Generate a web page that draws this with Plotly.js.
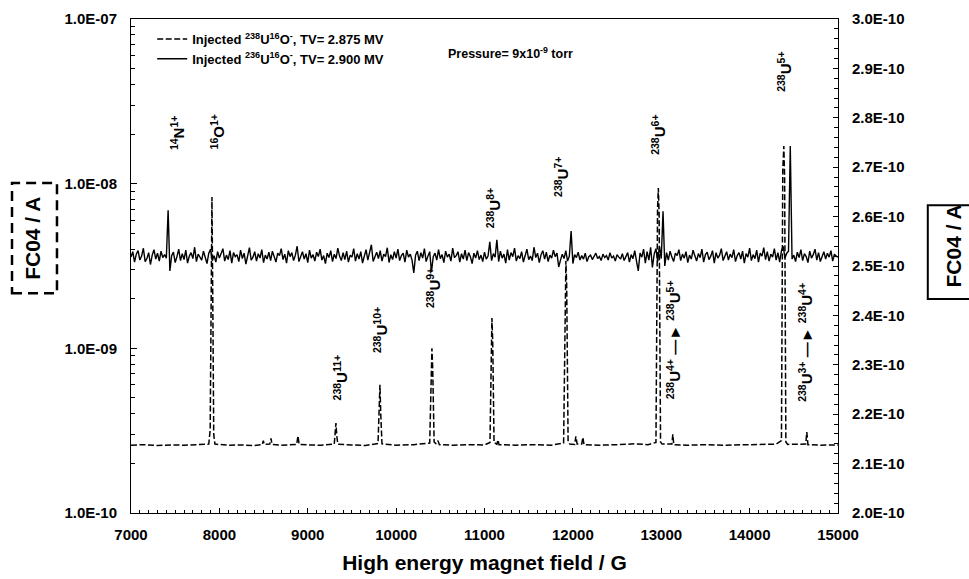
<!DOCTYPE html>
<html>
<head>
<meta charset="utf-8">
<script src="https://cdn.plot.ly/plotly-3.0.1.min.js"></script>
<style>html,body{margin:0;padding:0;background:#fff;}#chart{width:969px;height:579px;}</style>
</head>
<body>
<div id="chart"></div>
<script>
// Dashed series: Injected 238U16O-, TV = 2.875 MV (left axis, FC04 / A, log)
var dashField = [
  7000, 7150, 7300, 7450, 7600, 7750, 7880, 7896, 7906, 7916, 7924, 7936, 7950,
  8100, 8250, 8400, 8485, 8497, 8508, 8570, 8584, 8596, 8700, 8875, 8889, 8903,
  9000, 9150, 9300, 9312, 9319, 9328, 9340, 9500, 9650, 9795, 9808, 9817, 9826, 9840,
  10000, 10200, 10380, 10396, 10405, 10414, 10430, 10450, 10473, 10490, 10650, 10850,
  11000, 11062, 11076, 11084, 11093, 11108, 11140, 11152, 11165, 11350, 11550, 11750,
  11895, 11912, 11921, 11930, 11946, 11965, 12020, 12034, 12048, 12100, 12113, 12126,
  12300, 12500, 12700, 12850, 12940, 12958, 12967, 12976, 12992, 13010, 13120, 13131, 13142,
  13300, 13500, 13700, 13900, 14100, 14300, 14360, 14375, 14387, 14396, 14410, 14430,
  14635, 14647, 14660, 14800, 15000
];
var dashCurrent = [
  2.58e-10, 2.60e-10, 2.57e-10, 2.59e-10, 2.58e-10, 2.60e-10, 2.62e-10, 3.2e-10, 3.0e-9, 8.3e-9, 2.5e-9, 3.0e-10, 2.62e-10,
  2.58e-10, 2.59e-10, 2.57e-10, 2.60e-10, 2.75e-10, 2.61e-10, 2.62e-10, 2.84e-10, 2.61e-10, 2.58e-10, 2.61e-10, 2.94e-10, 2.61e-10,
  2.59e-10, 2.58e-10, 2.62e-10, 3.0e-10, 3.52e-10, 2.95e-10, 2.62e-10, 2.59e-10, 2.57e-10, 2.64e-10, 4.2e-10, 6.0e-10, 4.0e-10, 2.63e-10,
  2.58e-10, 2.60e-10, 2.66e-10, 8.0e-10, 1.0e-9, 7.5e-10, 2.7e-10, 2.64e-10, 2.75e-10, 2.60e-10, 2.58e-10, 2.60e-10,
  2.59e-10, 2.68e-10, 1.2e-9, 1.53e-9, 1.1e-9, 2.68e-10, 2.61e-10, 2.78e-10, 2.60e-10, 2.58e-10, 2.60e-10, 2.58e-10,
  2.66e-10, 2.6e-9, 3.4e-9, 2.4e-9, 2.7e-10, 2.62e-10, 2.61e-10, 2.92e-10, 2.62e-10, 2.62e-10, 2.88e-10, 2.60e-10,
  2.58e-10, 2.60e-10, 2.63e-10, 2.60e-10, 2.68e-10, 7.0e-9, 9.4e-9, 6.5e-9, 2.7e-10, 2.62e-10, 2.62e-10, 3.0e-10, 2.60e-10,
  2.58e-10, 2.60e-10, 2.58e-10, 2.59e-10, 2.60e-10, 2.62e-10, 2.75e-10, 1.2e-8, 1.69e-8, 1.1e-8, 2.7e-10, 2.61e-10,
  2.62e-10, 3.1e-10, 2.60e-10, 2.58e-10, 2.59e-10
];

// Solid series: Injected 236U16O-, TV = 2.900 MV (right axis, FC04 / A, in units of 1E-10 A)
// sampled every 20 G starting at 7000 G
var solidFieldStart = 7000;
var solidFieldStep = 20;
var solidCurrentE10 = [
  2.518,2.529,2.508,2.524,2.531,2.512,2.520,2.536,2.509,2.515,2.527,2.503,2.522,2.533,2.514,2.526,2.510,2.530,2.517,2.523,
  2.516,2.613,2.490,2.521,2.528,2.507,2.519,2.534,2.511,2.525,2.513,2.532,2.506,2.520,2.527,2.515,2.538,2.509,2.524,2.518,
  2.512,2.530,2.519,2.505,2.526,2.534,2.511,2.521,2.508,2.529,2.516,2.524,2.535,2.510,2.522,2.513,2.531,2.506,2.527,2.519,
  2.523,2.509,2.532,2.515,2.526,2.504,2.521,2.537,2.512,2.518,2.529,2.510,2.525,2.516,2.533,2.507,2.522,2.514,2.528,2.511,
  2.530,2.517,2.508,2.526,2.521,2.535,2.513,2.524,2.506,2.531,2.519,2.527,2.511,2.522,2.540,2.509,2.518,2.529,2.514,2.525,
  2.507,2.532,2.516,2.523,2.510,2.528,2.519,2.534,2.512,2.521,2.505,2.526,2.517,2.531,2.509,2.524,2.515,2.536,2.520,2.511,
  2.527,2.513,2.530,2.508,2.522,2.518,2.535,2.510,2.525,2.514,2.529,2.506,2.520,2.533,2.512,2.526,2.543,2.509,2.519,2.528,
  2.515,2.531,2.510,2.524,2.519,2.537,2.507,2.523,2.513,2.529,2.516,2.534,2.511,2.521,2.526,2.508,2.532,2.518,2.524,2.512,
  2.486,2.522,2.530,2.511,2.527,2.516,2.535,2.509,2.520,2.529,2.488,2.519,2.526,2.512,2.533,2.515,2.523,2.507,2.530,2.518,
  2.524,2.510,2.536,2.517,2.521,2.529,2.508,2.525,2.514,2.532,2.511,2.527,2.519,2.505,2.526,2.516,2.531,2.513,2.522,2.509,
  2.528,2.514,2.520,2.549,2.511,2.525,2.518,2.553,2.509,2.530,2.516,2.524,2.506,2.533,2.512,2.527,2.519,2.536,2.510,2.521,
  2.515,2.529,2.508,2.524,2.534,2.513,2.520,2.511,2.538,2.517,2.526,2.507,2.523,2.531,2.514,2.528,2.509,2.522,2.516,2.532,
  2.519,2.526,2.498,2.512,2.524,2.515,2.531,2.510,2.520,2.571,2.505,2.523,2.517,2.528,2.512,2.521,2.514,2.526,2.509,2.519,
  2.522,2.513,2.520,2.526,2.515,2.519,2.511,2.524,2.517,2.521,2.512,2.527,2.516,2.520,2.510,2.523,2.518,2.514,2.525,2.511,
  2.519,2.527,2.508,2.523,2.515,2.531,2.510,2.490,2.526,2.518,2.534,2.506,2.529,2.512,2.538,2.497,2.524,2.535,2.509,2.540,
  2.515,2.611,2.500,2.527,2.512,2.530,2.518,2.509,2.526,2.521,2.533,2.511,2.524,2.516,2.529,2.507,2.522,2.514,2.532,2.519,
  2.510,2.525,2.517,2.534,2.508,2.523,2.528,2.513,2.520,2.531,2.506,2.527,2.516,2.522,2.535,2.511,2.519,2.529,2.512,2.524,
  2.517,2.533,2.509,2.521,2.527,2.514,2.530,2.506,2.525,2.518,2.536,2.511,2.523,2.515,2.532,2.508,2.526,2.520,2.537,2.513,
  2.529,2.510,2.524,2.518,2.535,2.512,2.527,2.508,2.531,2.540,2.516,2.526,2.530,2.743,2.514,2.522,2.509,2.528,2.517,2.533,
  2.511,2.525,2.519,2.507,2.530,2.516,2.523,2.534,2.512,2.527,2.509,2.521,2.529,2.514,2.526,2.518,2.531,2.510,2.524,2.520,
  2.518
];

var leftTickVals = [1e-10, 1e-9, 1e-8, 1e-7];
var leftTickText = ['1.0E-10', '1.0E-09', '1.0E-08', '1.0E-07'];
var leftMinorVals = [2e-10,3e-10,4e-10,5e-10,6e-10,7e-10,8e-10,9e-10,
                     2e-9,3e-9,4e-9,5e-9,6e-9,7e-9,8e-9,9e-9,
                     2e-8,3e-8,4e-8,5e-8,6e-8,7e-8,8e-8,9e-8];

var seriesNames = [
  'Injected <sup>238</sup>U<sup>16</sup>O<sup>-</sup>, TV= 2.875 MV',
  'Injected <sup>236</sup>U<sup>16</sup>O<sup>-</sup>, TV= 2.900 MV'
];

var ARROW = ' \u2014\u25BA ';
var peakLabels = [
  {t: '<sup>14</sup>N<sup>1+</sup>', x: 0.065, y: 0.771},
  {t: '<sup>16</sup>O<sup>1+</sup>', x: 0.122, y: 0.771},
  {t: '<sup>238</sup>U<sup>11+</sup>', x: 0.296, y: 0.275},
  {t: '<sup>238</sup>U<sup>10+</sup>', x: 0.352, y: 0.370},
  {t: '<sup>238</sup>U<sup>9+</sup>', x: 0.427, y: 0.455},
  {t: '<sup>238</sup>U<sup>8+</sup>', x: 0.512, y: 0.617},
  {t: '<sup>238</sup>U<sup>7+</sup>', x: 0.608, y: 0.680},
  {t: '<sup>238</sup>U<sup>6+</sup>', x: 0.745, y: 0.765},
  {t: '<sup>238</sup>U<sup>5+</sup>', x: 0.925, y: 0.893},
  {t: '<sup>238</sup>U<sup>4+</sup>' + ARROW + '<sup>238</sup>U<sup>5+</sup>', x: 0.767, y: 0.350},
  {t: '<sup>238</sup>U<sup>3+</sup>' + ARROW + '<sup>238</sup>U<sup>4+</sup>', x: 0.953, y: 0.346}
];

var FONT = 'Arial, "Liberation Sans", sans-serif';

var traces = [
  {
    x: dashField, y: dashCurrent, type: 'scatter', mode: 'lines',
    name: seriesNames[0], yaxis: 'y',
    line: {color: '#000', width: 1.5, dash: '6px,2.5px'}
  },
  {
    x0: solidFieldStart, dx: solidFieldStep, y: solidCurrentE10, type: 'scatter', mode: 'lines',
    name: seriesNames[1], yaxis: 'y2',
    line: {color: '#000', width: 1.4}
  }
];

var tickFont = {family: FONT, size: 15, color: '#000', weight: 'bold'};

var annotations = peakLabels.map(function (p) {
  return {
    xref: 'paper', yref: 'paper', x: p.x, y: p.y, text: p.t,
    xanchor: 'center', yanchor: 'middle',
    textangle: -90, showarrow: false,
    font: {family: FONT, size: 15, color: '#000', weight: 'bold'}
  };
});
annotations.push({
  xref: 'paper', yref: 'paper', x: 0.537, y: 0.931, xanchor: 'center', yanchor: 'middle',
  text: 'Pressure= 9x10<sup>-9</sup> torr', showarrow: false,
  font: {family: FONT, size: 12.5, color: '#000', weight: 'bold'}
});
annotations.push({
  xref: 'paper', yref: 'paper', x: -0.1386, y: 0.555, xanchor: 'center', yanchor: 'middle',
  text: 'FC04 / A', textangle: -90, showarrow: false,
  font: {family: FONT, size: 21, color: '#000', weight: 'bold'}
});
annotations.push({
  xref: 'paper', yref: 'paper', x: 1.163, y: 0.540, xanchor: 'center', yanchor: 'middle',
  text: 'FC04 / A', textangle: -90, showarrow: false,
  font: {family: FONT, size: 21, color: '#000', weight: 'bold'}
});

var layout = {
  width: 969, height: 579,
  margin: {l: 131, r: 131, t: 19, b: 66},
  paper_bgcolor: '#fff', plot_bgcolor: '#fff',
  showlegend: true,
  legend: {
    x: 0.030, y: 0.990, xanchor: 'left', yanchor: 'top',
    bgcolor: 'rgba(0,0,0,0)', borderwidth: 0,
    font: {family: FONT, size: 13, color: '#000', weight: 'bold'},
    tracegroupgap: 0
  },
  xaxis: {
    range: [7000, 15000], tickmode: 'linear', tick0: 7000, dtick: 1000, tickformat: 'd',
    ticks: 'inside', ticklen: 5, tickwidth: 1, tickcolor: '#000',
    showline: true, linecolor: '#000', linewidth: 1, mirror: true,
    showgrid: false, zeroline: false,
    tickfont: tickFont, ticklabelstandoff: 8,
    minor: {tickmode: 'linear', tick0: 7000, dtick: 100, ticks: 'inside', ticklen: 3, tickcolor: '#000', showgrid: false},
    title: {text: 'High energy magnet field / G', font: {family: FONT, size: 21, color: '#000', weight: 'bold'}, standoff: 13}
  },
  yaxis: {
    type: 'log', range: [-10, -7],
    tickmode: 'array', tickvals: leftTickVals, ticktext: leftTickText,
    ticks: 'inside', ticklen: 6, tickwidth: 1, tickcolor: '#000',
    showline: true, linecolor: '#000', linewidth: 1,
    showgrid: false, zeroline: false,
    tickfont: tickFont, ticklabelstandoff: 10,
    minor: {tickmode: 'array', tickvals: leftMinorVals, ticks: 'inside', ticklen: 4, tickcolor: '#000', showgrid: false}
  },
  yaxis2: {
    overlaying: 'y', side: 'right', range: [2.0, 3.0],
    tickmode: 'linear', tick0: 2.0, dtick: 0.1, tickformat: '.1f', ticksuffix: 'E-10',
    ticks: 'inside', ticklen: 5, tickwidth: 1, tickcolor: '#000',
    showline: true, linecolor: '#000', linewidth: 1,
    showgrid: false, zeroline: false,
    tickfont: tickFont, ticklabelstandoff: 10,
    minor: {tickmode: 'linear', tick0: 2.0, dtick: 0.02, ticks: 'inside', ticklen: 4, tickcolor: '#000', showgrid: false}
  },
  annotations: annotations,
  shapes: [
    {type: 'rect', xref: 'paper', yref: 'paper', x0: -0.1683, x1: -0.1047, y0: 0.445, y1: 0.668,
     line: {color: '#000', width: 2.5, dash: '10px,6px'}, fillcolor: 'rgba(0,0,0,0)'},
    {type: 'rect', xref: 'paper', yref: 'paper', x0: 1.127, x1: 1.20, y0: 0.433, y1: 0.623,
     line: {color: '#000', width: 2}, fillcolor: 'rgba(0,0,0,0)'}
  ]
};

Plotly.newPlot('chart', traces, layout, {displayModeBar: false, staticPlot: true});
</script>
</body>
</html>
